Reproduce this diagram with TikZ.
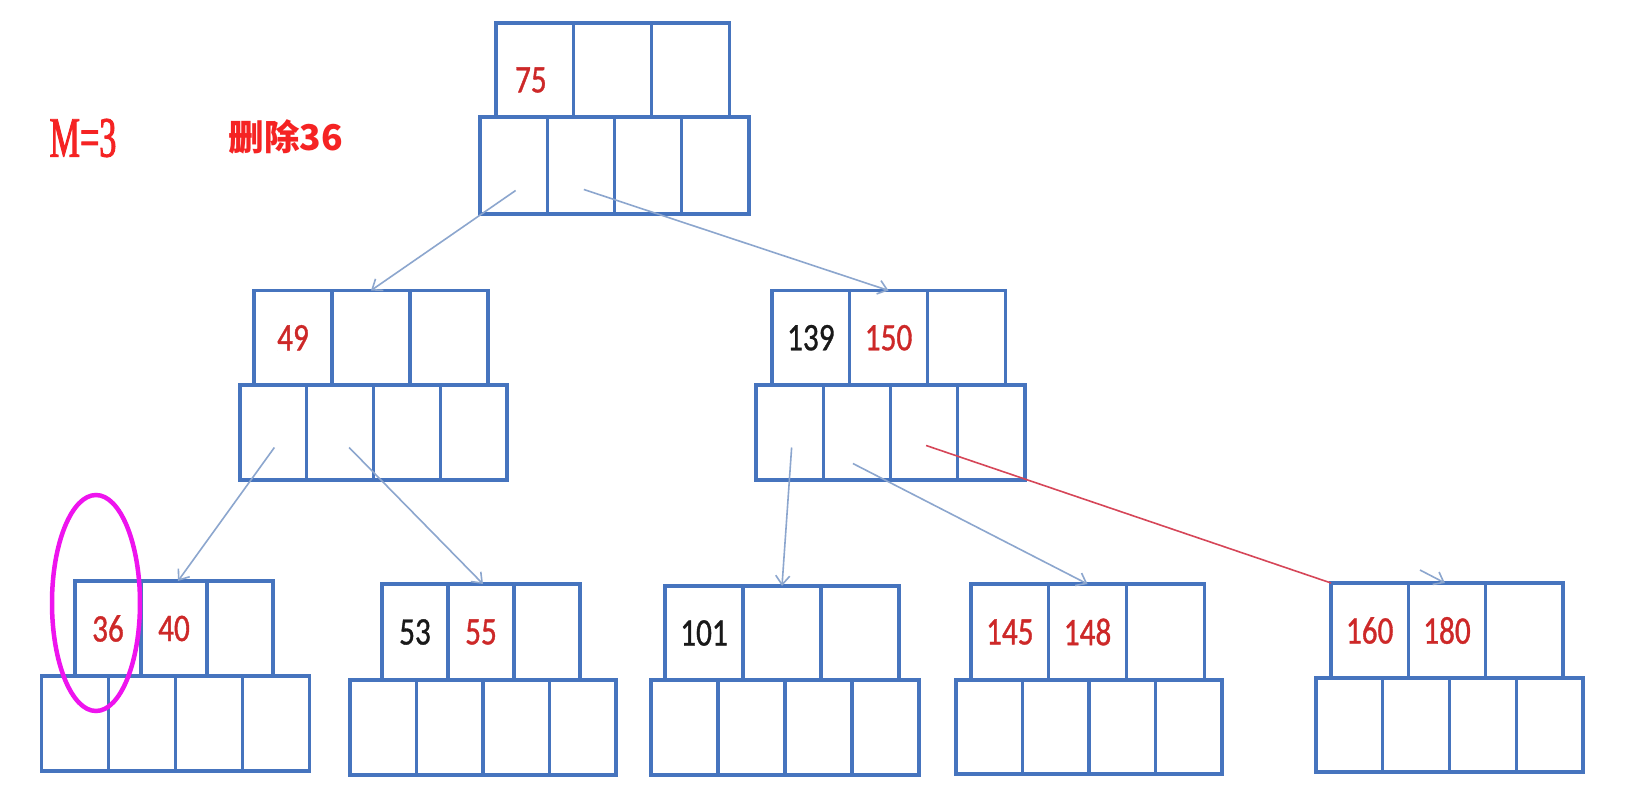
\documentclass[tikz,border=0pt]{standalone}
\usepackage{fontspec}
\usetikzlibrary{arrows.meta,shapes.geometric}
\newfontfamily\numfont[FakeStretch=0.8,FakeBold=0.9]{Carlito}
\newfontfamily\mfont[FakeStretch=0.6,FakeBold=1.6]{Liberation Serif}
\newfontfamily\cjk{Noto Sans CJK SC}
\definecolor{boxblue}{RGB}{70,116,190}
\definecolor{arrblue}{RGB}{140,166,206}
\definecolor{keyred}{RGB}{205,40,40}
\definecolor{keyblack}{RGB}{25,25,25}
\definecolor{linered}{RGB}{214,70,88}
\definecolor{markmag}{RGB}{238,20,238}
\definecolor{titlered}{RGB}{245,35,35}
\newcommand{\Rd}[1]{\textcolor{keyred}{#1}}
\newcommand{\Bk}[1]{\textcolor{keyblack}{#1}}
\tikzset{
  cellbase/.style={draw=boxblue, line width=3.2pt, rectangle, outer sep=0pt,
    inner sep=0pt, anchor=north west, font=\numfont\fontsize{39}{39}\selectfont},
  ptrarrow/.style={draw=arrblue, line width=1.6pt,
    -{Straight Barb[length=9pt,width=14pt,line width=1.6pt]}},
  redline/.style={draw=linered, line width=1.6pt},
  markring/.style={draw=markmag, line width=4.5pt, ellipse, inner sep=0pt},
  titletext/.style={text=titlered, inner sep=0pt}
}
% #1 prefix, #2 x, #3 y, #4 cell width, #5 height, #6-#8 texts
\newcommand{\keyrow}[8]{%
  \node[cellbase, minimum width=#4, minimum height=#5] (#1-k1) at (#2,#3) {#6};
  \node[cellbase, minimum width=#4, minimum height=#5] (#1-k2) at (#1-k1.north east) {#7};
  \node[cellbase, minimum width=#4, minimum height=#5] (#1-k3) at (#1-k2.north east) {#8};
}
% #1 prefix, #2 x, #3 y, #4 cell width, #5 height
\newcommand{\ptrrow}[5]{%
  \node[cellbase, minimum width=#4, minimum height=#5] (#1-p1) at (#2,#3) {};
  \node[cellbase, minimum width=#4, minimum height=#5] (#1-p2) at (#1-p1.north east) {};
  \node[cellbase, minimum width=#4, minimum height=#5] (#1-p3) at (#1-p2.north east) {};
  \node[cellbase, minimum width=#4, minimum height=#5] (#1-p4) at (#1-p3.north east) {};
}
\begin{document}
\begin{tikzpicture}[x=1pt,y=-1pt]
\useasboundingbox (0,0) rectangle (1627,800);
\fill[white] (0,0) rectangle (1627,800);

% titles
\node[titletext, font=\mfont\fontsize{57}{57}\selectfont] (mtitle) at (83,138) {M=3};
\node[titletext, font=\cjk\bfseries\fontsize{35.5}{35.5}\selectfont] (deltitle) at (286,137) {删除36};

% root
\keyrow{r}{496}{23}{77.7}{94}{}{}{}
\node[text=keyred, font=\numfont\fontsize{39}{39}\selectfont] (r-t1) at ([yshift=-10pt, xshift=-4pt]r-k1.center) {75};
\ptrrow{r}{480}{117}{67.25}{97}

% middle level
\keyrow{ml}{254}{290.5}{78}{94.5}{\Rd{49}}{}{}
\ptrrow{ml}{240}{385}{66.75}{95}
\keyrow{mr}{772}{290.5}{77.7}{94.5}{\Bk{139}}{\Rd{150}}{}
\ptrrow{mr}{756}{385}{67.25}{95}

% leaves
\keyrow{la}{75}{581}{66}{95}{\Rd{36}}{\Rd{40}}{}
\ptrrow{la}{41.5}{676}{67}{95}
\keyrow{lb}{382}{584}{66}{96}{\Bk{53}}{\Rd{55}}{}
\ptrrow{lb}{350}{680}{66.5}{95}
\keyrow{lc}{665}{586}{78}{94}{\Bk{101}}{}{}
\ptrrow{lc}{651}{680}{67}{95}
\keyrow{ld}{971}{584}{77.7}{96}{\Rd{145}}{\Rd{148}}{}
\ptrrow{ld}{956}{680}{66.5}{94}
\keyrow{le}{1331}{583}{77.3}{95}{\Rd{160}}{\Rd{180}}{}
\ptrrow{le}{1316}{678}{66.75}{94}

% connectors
\draw[ptrarrow] ([xshift=2pt,yshift=-25pt]r-p1.center) -- (ml-k2.north);
\draw[ptrarrow] ([xshift=3pt,yshift=-24pt]r-p2.center) -- (mr-k2.north);
\draw[ptrarrow] ([xshift=1pt,yshift=-15pt]ml-p1.center) -- ([xshift=4pt]la-k2.north);
\draw[ptrarrow] ([xshift=9pt,yshift=-15pt]ml-p2.center) -- ([xshift=2pt]lb-k2.north);
\draw[ptrarrow] ([xshift=2pt,yshift=-15pt]mr-p1.center) -- (lc-k2.north);
\draw[ptrarrow] ([xshift=-4pt,yshift=-31pt]mr-p2.center) -- (ld-k2.north);
\draw[redline] ([xshift=2pt,yshift=-13pt]mr-p3.center) -- (le-k1.north west);
\coordinate (stub) at (1420,570);
\draw[ptrarrow] (stub) -- ([xshift=-2pt]le-k2.north);

% highlight ring
\node[markring, minimum width=88, minimum height=216] (ring) at (96,603) {};
\end{tikzpicture}
\end{document}
